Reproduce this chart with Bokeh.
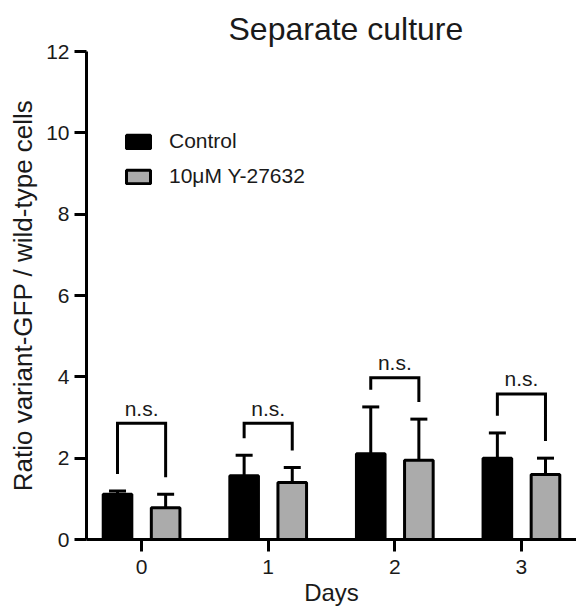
import numpy as np
from bokeh.plotting import figure
from bokeh.models import (Range1d, FixedTicker, Legend, LegendItem,
                          ColumnDataSource, Whisker, TeeHead)
from bokeh.core.properties import value
from bokeh.embed import file_html
from bokeh.resources import INLINE

# ---- data ----
days = [0, 1, 2, 3]
day_labels = ["0", "1", "2", "3"]
control_mean = [1.11, 1.57, 2.11, 2.00]
control_sd = [0.08, 0.50, 1.15, 0.62]
y27632_mean = [0.78, 1.40, 1.95, 1.60]
y27632_sd = [0.33, 0.37, 1.01, 0.40]
bracket_top = [2.86, 2.86, 3.98, 3.58]
sig_labels = ["n.s.", "n.s.", "n.s.", "n.s."]
series_names = ["Control", "10μM Y-27632"]
y_ticks = [0, 2, 4, 6, 8, 10, 12]
title_text = "Separate culture"
x_title = "Days"
y_title = "Ratio variant-GFP / wild-type cells"

# ---- style ----
FONT = "Liberation Sans"
OFF = 0.19       # dodge of each bar from the day centre
BAR_W = 0.226
GAP = 0.42       # gap between error cap and bracket leg
GRAY = "#ababab"
TXT = "#1a1a1a"

d = np.array(days, float)
xc = d - OFF
xg = d + OFF
cm = np.array(control_mean); cs = np.array(control_sd)
gm = np.array(y27632_mean); gs = np.array(y27632_sd)

p = figure(width=576, height=610, x_range=Range1d(-0.435, 3.435), y_range=Range1d(0, 12),
           output_backend="svg", toolbar_location=None,
           min_border_left=86, min_border_right=0, min_border_top=51, min_border_bottom=71)
p.outline_line_color = None
p.xgrid.visible = False
p.ygrid.visible = False
p.background_fill_color = "white"

p.title.text = title_text
p.title.text_font = FONT
p.title.text_font_size = "32px"
p.title.text_font_style = "normal"
p.title.text_color = TXT
p.title.align = "left"
p.title.offset = 142
p.title.standoff = 9

r_ctrl = p.vbar(x=xc, top=cm, width=BAR_W, fill_color="black", line_color="black", line_width=3)
r_gray = p.vbar(x=xg, top=gm, width=BAR_W, fill_color=GRAY, line_color="black", line_width=3)

wsrc = ColumnDataSource(dict(x=np.concatenate([xc, xg]),
                             lo=np.concatenate([cm, gm]),
                             hi=np.concatenate([cm + cs, gm + gs])))
whisk = Whisker(source=wsrc, base="x", lower="lo", upper="hi", dimension="height",
                line_width=3, line_color="black", level="underlay",
                upper_head=TeeHead(size=17, line_width=3, line_color="black"),
                lower_head=None)
p.add_layout(whisk)

bt = np.array(bracket_top)
xs = [[xc[i], xc[i], xg[i], xg[i]] for i in range(len(days))]
ys = [[cm[i] + cs[i] + GAP, bt[i], bt[i], gm[i] + gs[i] + GAP] for i in range(len(days))]
p.multi_line(xs=xs, ys=ys, line_width=3, line_color="black", line_join="miter", line_cap="butt")

p.text(x=d, y=bt, text=sig_labels, text_font=value(FONT), text_font_size="21px",
       text_align="center", text_baseline="alphabetic", y_offset=-15, text_color=TXT)

# axes
for ax in (p.xaxis[0], p.yaxis[0]):
    ax.axis_line_width = 3
    ax.axis_line_color = "black"
    ax.major_tick_line_width = 3
    ax.major_tick_line_color = "black"
    ax.major_tick_in = 0
    ax.major_tick_out = 12
    ax.minor_tick_line_color = None
    ax.major_label_text_font = FONT
    ax.major_label_text_font_size = "21px"
    ax.major_label_text_color = TXT
    ax.axis_label_text_font = FONT
    ax.axis_label_text_font_style = "normal"
    ax.axis_label_text_color = TXT

p.xaxis.ticker = FixedTicker(ticks=days)
p.xaxis.major_label_overrides = {dd: lab for dd, lab in zip(days, day_labels)}
p.xaxis.axis_label = x_title
p.xaxis.axis_label_text_font_size = "24px"
p.xaxis.major_label_standoff = 8
p.xaxis.axis_label_standoff = 2

p.yaxis.ticker = FixedTicker(ticks=y_ticks)
p.yaxis.axis_label = y_title
p.yaxis.axis_label_text_font_size = "26px"
p.yaxis.major_label_standoff = 5
p.yaxis.axis_label_standoff = 5

legend = Legend(items=[LegendItem(label=series_names[0], renderers=[r_ctrl]),
                       LegendItem(label=series_names[1], renderers=[r_gray])],
                location=(37, 351), orientation="vertical",
                glyph_width=30, glyph_height=17, label_standoff=16, spacing=11,
                padding=0, margin=0, border_line_color=None, background_fill_alpha=0,
                label_text_font=FONT, label_text_font_size="21px", label_text_color=TXT)
p.add_layout(legend, "center")

open("out.html", "w").write(file_html(p, INLINE))
